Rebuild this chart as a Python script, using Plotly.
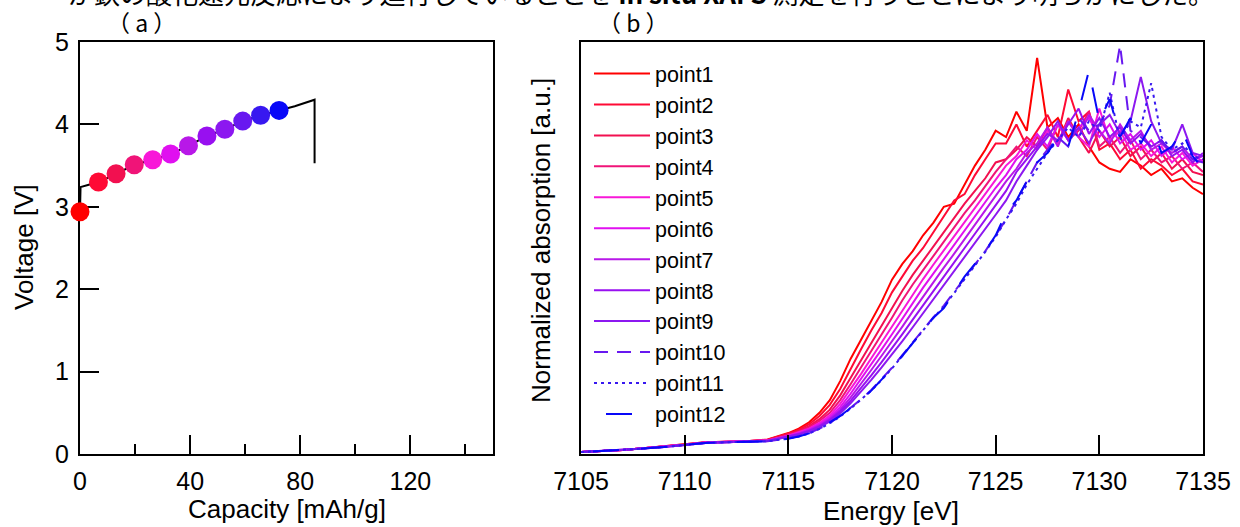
import plotly.graph_objects as go

# ---------------- Panel (a): charge curve ----------------
line_cap = [0.0, 0.2, 3.5, 6.7, 13.1, 19.7, 26.4, 32.9, 39.4, 46.1, 52.6, 59.1, 65.6, 72.3, 78.0, 85.2, 85.2]
line_volt = [2.94, 3.24, 3.27, 3.30, 3.40, 3.51, 3.57, 3.64, 3.74, 3.86, 3.94, 4.04, 4.11, 4.17, 4.22, 4.30, 3.53]

point_cap = [0.0, 6.7, 13.1, 19.7, 26.4, 32.9, 39.4, 46.1, 52.6, 59.1, 65.6, 72.3]
point_volt = [2.94, 3.30, 3.40, 3.51, 3.57, 3.64, 3.74, 3.86, 3.94, 4.04, 4.11, 4.17]

point_names = ["point1", "point2", "point3", "point4", "point5", "point6",
               "point7", "point8", "point9", "point10", "point11", "point12"]
point_colors = ["#ff0000", "#ff0a35", "#f21050", "#f01478", "#f818d8", "#e010f0",
                "#b818e8", "#9810f0", "#8c18f0", "#6818f0", "#3818f0", "#0808f8"]
point_dash = ["solid"] * 9 + ["14px,9px", "3px,4px", "0px,12px,26px,10px"]

cap_ticks = [0, 40, 80, 120]
volt_ticks = [0, 1, 2, 3, 4, 5]

# ---------------- Panel (b): XANES spectra ----------------
energy = [7105, 7106, 7107, 7108, 7109, 7110, 7111, 7112, 7113, 7114,
          7115, 7115.5, 7116, 7116.5, 7117, 7117.5, 7118, 7118.5, 7119, 7119.5,
          7120, 7120.5, 7121, 7121.5, 7122, 7122.5, 7123, 7123.5, 7124, 7124.5,
          7125, 7125.5, 7126, 7126.5, 7127, 7127.5, 7128, 7128.5, 7129, 7129.5,
          7130, 7130.5, 7131, 7131.5, 7132, 7132.5, 7133, 7133.5, 7134, 7134.5, 7135]

p1 = [.006, .009, .013, .018, .024, .030, .037, .039, .040, .046,
      .066, .080, .100, .130, .170, .230, .300, .360, .420, .480,
      .550, .600, .640, .690, .730, .780, .790, .850, .910, .960, 1.02,
      1.00, 1.08, 1.02, 1.25, 1.03, 1.06, 1.00, 1.04, .97, .92,
      .90, .89, .93, .91, .88, .90, .86, .87, .84, .82]
p2 = [.006, .009, .013, .018, .024, .030, .037, .039, .040, .045,
      .064, .076, .094, .120, .155, .205, .270, .330, .390, .445,
      .510, .560, .610, .650, .700, .750, .800, .820, .880, .930, .980,
      .98, 1.04, .97, 1.02, 1.07, 1.00, 1.15, 1.05, 1.08, .96,
      .98, .93, .96, .90, .93, .91, .88, .90, .86, .85]
p3 = [.006, .009, .013, .018, .023, .029, .036, .038, .039, .044,
      .062, .073, .088, .110, .140, .185, .240, .295, .350, .405,
      .460, .515, .565, .610, .655, .700, .745, .790, .830, .870, .920,
      .93, .96, 1.00, .97, 1.03, .98, 1.06, 1.00, .95, 1.02,
      .97, 1.00, .94, .97, .92, .95, .90, .93, .89, .88]
p4 = [.006, .009, .013, .018, .023, .029, .036, .038, .039, .043,
      .060, .070, .084, .104, .130, .170, .220, .272, .325, .378,
      .430, .485, .535, .580, .625, .670, .715, .760, .800, .845, .890,
      .93, .97, .94, 1.00, .96, 1.04, .99, 1.02, 1.08, .97,
      1.00, .95, .99, .93, .96, .92, .94, .90, .92, .89]
p5 = [.006, .009, .013, .018, .023, .029, .036, .038, .039, .043,
      .058, .068, .080, .098, .122, .158, .203, .252, .302, .352,
      .402, .455, .505, .552, .598, .642, .688, .732, .775, .820, .865,
      .91, .94, .99, .96, 1.02, .98, 1.05, 1.00, .97, 1.09,
      .99, 1.02, .96, .98, .94, .97, .92, .95, .91, .93]
p6 = [.006, .009, .013, .018, .023, .029, .036, .038, .038, .042,
      .057, .066, .078, .094, .116, .148, .190, .236, .283, .330,
      .378, .428, .478, .525, .570, .615, .660, .705, .750, .795, .840,
      .88, .93, .96, 1.01, .97, 1.04, .99, 1.03, 1.06, 1.00,
      1.04, .98, 1.01, .96, .99, .94, .97, .93, .95, .92]
p7 = [.006, .009, .013, .018, .023, .029, .036, .038, .038, .042,
      .056, .064, .075, .090, .111, .140, .178, .220, .265, .310,
      .355, .402, .450, .497, .543, .588, .632, .678, .722, .768, .812,
      .86, .90, .95, .98, 1.03, .97, 1.05, 1.00, 1.07, 1.02,
      .98, 1.04, .99, 1.02, .96, .98, .95, .97, .93, .94]
p8 = [.006, .009, .013, .017, .022, .028, .035, .037, .038, .041,
      .055, .062, .073, .087, .107, .134, .168, .207, .248, .290,
      .333, .378, .424, .470, .515, .560, .605, .650, .695, .740, .785,
      .83, .89, .93, .97, 1.01, .99, 1.04, 1.09, 1.01, 1.06,
      1.00, 1.03, .98, 1.01, .97, .99, .94, .96, .92, .95]
p9 = [.006, .009, .013, .017, .022, .028, .035, .037, .038, .041,
      .054, .061, .071, .084, .103, .128, .160, .196, .234, .273,
      .314, .356, .400, .444, .488, .532, .576, .620, .665, .710, .755,
      .80, .86, .91, .96, 1.00, 1.05, .99, 1.03, .98, 1.04,
      1.07, 1.01, 1.05, 1.19, 1.05, .98, .96, 1.04, .95, .94]
p10 = [.006, .009, .012, .017, .022, .028, .035, .037, .038, .040,
       .050, .056, .066, .080, .098, .120, .146, .172, .202, .236,
       .272, .312, .352, .392, .432, .468, .510, .555, .598, .640, .690,
       .74, .80, .86, .92, .96, 1.00, .97, 1.06, 1.02, 1.04,
       1.10, 1.29, 1.02, 1.00, .97, .99, .95, .97, .93, .92]
p11 = [.006, .009, .012, .017, .022, .028, .035, .037, .038, .040,
       .049, .055, .065, .079, .097, .118, .143, .170, .200, .234,
       .270, .310, .350, .390, .430, .465, .508, .552, .596, .638, .685,
       .74, .79, .85, .90, .95, .99, 1.03, 1.00, 1.05, 1.02,
       1.14, .99, 1.05, 1.03, 1.17, 1.00, .96, .98, .94, .93]
p12 = [.006, .009, .012, .017, .022, .028, .035, .037, .038, .040,
       .048, .055, .065, .082, .100, .120, .145, .170, .200, .235,
       .270, .310, .350, .390, .430, .460, .510, .560, .600, .640, .690,
       .76, .80, .86, .92, .95, 1.00, .97, 1.08, 1.21, 1.05,
       1.12, 1.00, 1.06, .98, 1.04, .95, .97, 1.02, .94, .90]
spectra = [p1, p2, p3, p4, p5, p6, p7, p8, p9, p10, p11, p12]

energy_ticks = [7105, 7110, 7115, 7120, 7125, 7130, 7135]

# ---------------- figure ----------------
W, H = 1240, 527
FONT = "Liberation Sans, Arial, sans-serif"
JP = "Noto Sans CJK JP"


def px_x(p):
    return p / W


def px_y(p):
    return 1 - p / H


fig = go.Figure()

fig.add_trace(go.Scatter(x=line_cap, y=line_volt, mode="lines",
                         line=dict(color="black", width=2),
                         showlegend=False, xaxis="x", yaxis="y", cliponaxis=False))
fig.add_trace(go.Scatter(x=point_cap, y=point_volt, mode="markers",
                         marker=dict(size=19, color=point_colors, line=dict(width=0)),
                         showlegend=False, xaxis="x", yaxis="y", cliponaxis=False))

for name, col, dash, vals in zip(point_names, point_colors, point_dash, spectra):
    fig.add_trace(go.Scatter(x=energy, y=vals, mode="lines", name=name,
                             line=dict(color=col, width=2, dash=dash),
                             xaxis="x2", yaxis="y2"))

ydom = [px_y(454), px_y(42)]
axis_common = dict(showline=True, linecolor="black", linewidth=2, mirror=True,
                   showgrid=False, zeroline=False, automargin=False,
                   tickfont=dict(family=FONT, size=25, color="black"))

fig.update_layout(
    width=W, height=H,
    margin=dict(l=0, r=0, t=0, b=0),
    paper_bgcolor="white", plot_bgcolor="white",
    font=dict(family=FONT, color="black"),
    xaxis=dict(domain=[px_x(80), px_x(493)], range=[0, 150],
               tickvals=cap_ticks, ticks="inside", ticklen=19, tickwidth=2,
               tickcolor="black", ticklabelstandoff=4, layer="below traces",
               minor=dict(dtick=20, tick0=0, ticks="inside", ticklen=10,
                          tickwidth=2, tickcolor="black"),
               anchor="y", **axis_common),
    yaxis=dict(domain=ydom, range=[0, 5], tickvals=volt_ticks,
               ticks="inside", ticklen=19, tickwidth=2, tickcolor="black",
               ticklabelstandoff=4, layer="below traces",
               anchor="x", **axis_common),
    xaxis2=dict(domain=[px_x(581), px_x(1203)], range=[7105, 7135],
                tickvals=energy_ticks, ticks="inside", ticklen=19, tickwidth=2,
                tickcolor="black", ticklabelstandoff=4,
                anchor="y2", **axis_common),
    yaxis2=dict(domain=ydom, range=[0, 1.3], showticklabels=False, ticks="",
                anchor="x2", **axis_common),
    legend=dict(x=px_x(589), y=px_y(53), xanchor="left", yanchor="top",
                bgcolor="rgba(0,0,0,0)", borderwidth=0, itemwidth=56,
                font=dict(family=FONT, size=21.5, color="black")),
)

ann = [
    dict(text="Voltage [V]", x=px_x(24), y=px_y(247), textangle=-90,
         font=dict(family=FONT, size=26, color="black")),
    dict(text="Capacity [mAh/g]", x=px_x(287), y=px_y(509),
         font=dict(family=FONT, size=26, color="black")),
    dict(text="Energy [eV]", x=px_x(891), y=px_y(511),
         font=dict(family=FONT, size=26, color="black")),
    dict(text="Normalized absorption [a.u.]", x=px_x(541), y=px_y(241), textangle=-90,
         font=dict(family=FONT, size=26, color="black")),
    dict(text="（ a ）", x=px_x(141), y=px_y(22),
         font=dict(family=JP, size=23, color="black")),
    dict(text="（ b ）", x=px_x(634), y=px_y(22),
         font=dict(family=JP, size=23, color="black")),
    dict(text="が鉄の酸化還元反応により進行していることを <b>in situ XAFS</b> 測定を行うことにより明らかにした。",
         x=px_x(66), y=px_y(-8), xanchor="left",
         font=dict(family=JP, size=26, color="black")),
]
for a in ann:
    a.setdefault("xanchor", "center")
    a.update(xref="paper", yref="paper", yanchor="middle", showarrow=False)
    fig.add_annotation(**a)

fig.write_html("out.html", config={"displayModeBar": False},
               post_script="document.body.style.margin='0px';document.body.style.overflow='hidden';")
